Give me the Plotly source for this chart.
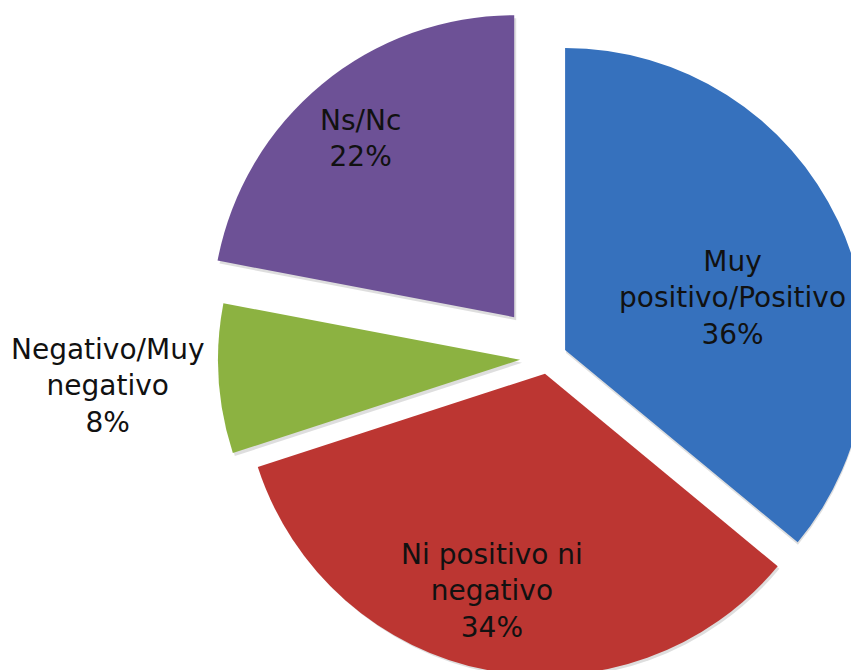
import numpy as np
import plotly.graph_objects as go

# ---- data ----
labels = ["Muy<br>positivo/Positivo", "Ni positivo ni<br>negativo", "Negativo/Muy<br>negativo", "Ns/Nc"]
values = [36, 34, 8, 22]

# ---- style ----
colors = ["#3671bd", "#bc3632", "#8cb241", "#6d5196"]
explode_px = [19, 16, 28, 53]          # radial offset of each slice (px)
label_rfrac = [0.58, 0.74, 1.37, 0.78]  # label distance from slice tip (fraction of radius)
label_dang = [8, 3, 0, -1]              # label angular nudge (deg)
W, H = 859, 670
CX, CY, R = 540, 350, 302
SHADOW = (2, 3)


def slice_domain(cx, cy):
    x0 = max(0.0, (cx - R) / W)
    x1 = min(1.0, (cx + R) / W)
    y0 = max(0.0, (H - (cy + R)) / H)
    y1 = min(1.0, (H - (cy - R)) / H)
    return dict(x=[x0, x1], y=[y0, y1])


fig = go.Figure()
total = float(sum(values))
starts = np.concatenate([[0.0], np.cumsum(values)[:-1]]) * 360.0 / total
spans = np.array(values) * 360.0 / total
annotations = []

# shadows first
for i, v in enumerate(values):
    mid = np.deg2rad(starts[i] + spans[i] / 2)
    cx = CX + explode_px[i] * np.sin(mid) + SHADOW[0]
    cy = CY - explode_px[i] * np.cos(mid) + SHADOW[1]
    fig.add_trace(go.Pie(
        values=[v, total - v], sort=False, direction="clockwise",
        rotation=starts[i],
        labels=["sh%d" % i, "shr%d" % i],
        marker=dict(colors=["rgba(0,0,0,0.13)", "rgba(0,0,0,0)"], line=dict(width=0)),
        textinfo="none", hoverinfo="skip", domain=slice_domain(cx, cy),
        showlegend=False,
    ))

for i, v in enumerate(values):
    mid = np.deg2rad(starts[i] + spans[i] / 2)
    cx = CX + explode_px[i] * np.sin(mid)
    cy = CY - explode_px[i] * np.cos(mid)
    fig.add_trace(go.Pie(
        values=[v, total - v],
        labels=[labels[i].replace("<br>", " "), "_rest%d" % i],
        sort=False,
        direction="clockwise",
        rotation=starts[i],
        marker=dict(colors=[colors[i], "rgba(0,0,0,0)"], line=dict(width=0)),
        textinfo="none",
        hoverinfo="skip",
        domain=slice_domain(cx, cy),
        showlegend=False,
    ))
    la = mid + np.deg2rad(label_dang[i])
    lx = cx + label_rfrac[i] * R * np.sin(la)
    ly = cy - label_rfrac[i] * R * np.cos(la)
    annotations.append(dict(
        x=lx / W, y=(H - ly) / H, xref="paper", yref="paper",
        text="%s<br>%d%%" % (labels[i], v), showarrow=False,
        font=dict(family="DejaVu Sans", size=28, color="#111111"),
        align="center", xanchor="center", yanchor="middle",
    ))

fig.update_layout(
    width=W, height=H,
    margin=dict(l=0, r=0, t=0, b=0),
    paper_bgcolor="white", plot_bgcolor="white",
    annotations=annotations,
    showlegend=False,
)
fig.write_html("out.html")
